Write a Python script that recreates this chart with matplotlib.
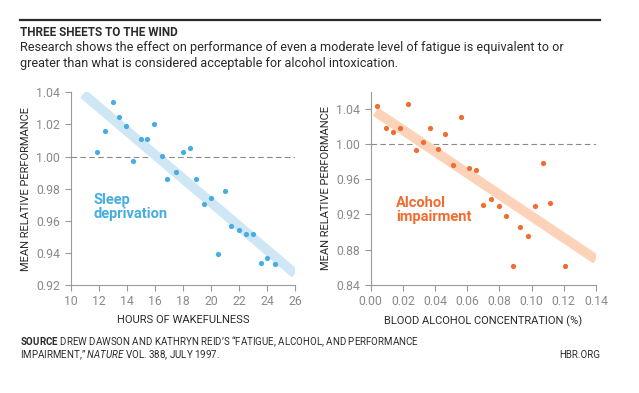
import matplotlib
matplotlib.use("Agg")
import matplotlib.pyplot as plt
from matplotlib.lines import Line2D

plt.rcParams['font.family'] = ['Roboto', 'DejaVu Sans']
plt.rcParams['mathtext.fontset'] = 'custom'
plt.rcParams['mathtext.rm'] = 'Roboto'
plt.rcParams['mathtext.it'] = 'Roboto:italic'
plt.rcParams['mathtext.bf'] = 'Roboto:bold'

# sleep deprivation: hours awake vs mean relative performance
hours = [11.85, 12.45, 13.0, 13.47, 13.95, 14.47, 14.99, 15.47, 15.94, 16.49,
         16.9, 17.49, 17.99, 18.51, 18.96, 19.51, 20.03, 20.49, 20.98, 21.44,
         22.0, 22.5, 22.98, 23.58, 24.0, 24.55]
sleep_perf = [1.0031, 1.016, 1.0338, 1.0248, 1.019, 0.9973, 1.0108, 1.0108, 1.020, 1.0006,
              0.9858, 0.9902, 1.0027, 1.0052, 0.9863, 0.9706, 0.974, 0.9394, 0.9788, 0.9569,
              0.9544, 0.9517, 0.9517, 0.9338, 0.9369, 0.9329]
sleep_fit_x = [10.9, 26]
sleep_fit_y = [1.039, 0.927]

# alcohol: blood alcohol concentration vs mean relative performance
bac = [0.0041, 0.0093, 0.0139, 0.0184, 0.023, 0.028, 0.0323, 0.0369, 0.0418, 0.0462,
       0.0514, 0.0561, 0.0609, 0.0652, 0.0698, 0.0748, 0.0795, 0.0839, 0.0884, 0.093,
       0.098, 0.1023, 0.1069, 0.1114, 0.1207]
alc_perf = [1.0426, 1.0178, 1.014, 1.0178, 1.0456, 0.9935, 1.002, 1.0182, 0.9948, 1.011,
            0.976, 1.031, 0.973, 0.970, 0.9309, 0.9373, 0.9297, 0.918, 0.8616, 0.9053,
            0.8959, 0.9294, 0.9779, 0.9335, 0.8616]
alc_fit_x = [0.003, 0.14]
alc_fit_y = [1.0366, 0.869]

sleep_ticks_x = [10, 12, 14, 16, 18, 20, 22, 24, 26]
sleep_ticks_y = [0.92, 0.94, 0.96, 0.98, 1.00, 1.02, 1.04]
alc_ticks_x = [0.00, 0.02, 0.04, 0.06, 0.08, 0.10, 0.12, 0.14]
alc_ticks_y = [0.84, 0.88, 0.92, 0.96, 1.00, 1.04]

blue, blue_lt = '#45ade2', '#cfe6f5'
orange, orange_lt = '#f26b2f', '#fcd2b8'
grey, dark = '#8a8a8a', '#2a2a2a'

fig = plt.figure(figsize=(6.39, 3.93), dpi=100)
fig.patch.set_facecolor('white')

ax1 = fig.add_axes([0.1106, 0.275, 0.3511, 0.490])
ax2 = fig.add_axes([0.5801, 0.275, 0.3526, 0.491])


def style(ax, xt, yt, xfmt, yfmt):
    for s in ['top', 'right']:
        ax.spines[s].set_visible(False)
    for s in ['left', 'bottom']:
        ax.spines[s].set_color('#9a9a9a')
        ax.spines[s].set_linewidth(0.8)
    ax.set_xticks(xt)
    ax.set_yticks(yt)
    ax.set_xticklabels([xfmt.format(v) for v in xt])
    ax.set_yticklabels([yfmt.format(v) for v in yt])
    ax.tick_params(colors='#9a9a9a', labelcolor=grey, labelsize=8.8, length=4, width=0.8)
    ax.axhline(1.0, color='#8a8a8a', lw=0.8, ls=(0, (5, 3)), zorder=1)
    ax.set_ylabel('MEAN RELATIVE PERFORMANCE', fontsize=8, color=dark, labelpad=4)


style(ax1, sleep_ticks_x, sleep_ticks_y, '{:.0f}', '{:.2f}')
ax1.set_xlim(10, 26)
ax1.set_ylim(0.92, 1.04)
ax1.plot(sleep_fit_x, sleep_fit_y, color=blue_lt, lw=7, solid_capstyle='butt', zorder=2)
ax1.scatter(hours, sleep_perf, s=14, color=blue, zorder=3, linewidths=0)
ax1.text(11.6, 0.9685, 'Sleep\ndeprivation', color=blue, fontsize=10.5, fontweight='bold',
         va='center', ha='left', linespacing=1.0)
ax1.set_xlabel('HOURS OF WAKEFULNESS', fontsize=8, color=dark, labelpad=5)

style(ax2, alc_ticks_x, alc_ticks_y, '{:.2f}', '{:.2f}')
ax2.set_xlim(0, 0.14)
ax2.set_ylim(0.84, 1.059)
ax2.plot(alc_fit_x, alc_fit_y, color=orange_lt, lw=7, solid_capstyle='butt', zorder=2)
ax2.scatter(bac, alc_perf, s=14, color=orange, zorder=3, linewidths=0)
ax2.text(0.0157, 0.925, 'Alcohol\nimpairment', color=orange, fontsize=10.5, fontweight='bold',
         va='center', ha='left', linespacing=1.0)
ax2.set_xlabel('BLOOD ALCOHOL CONCENTRATION (%)', fontsize=8, color=dark, labelpad=5)

# header
fig.add_artist(Line2D([20 / 639, 600 / 639], [1 - 20 / 393, 1 - 20 / 393], color=dark, lw=1.6))
fig.text(20 / 639, 1 - 33 / 393, 'THREE SHEETS TO THE WIND', fontsize=8.5, fontweight='bold',
         color=dark, va='center')
fig.text(20 / 639, 1 - 48 / 393,
         'Research shows the effect on performance of even a moderate level of fatigue is equivalent to or',
         fontsize=9.1, color=dark, va='center')
fig.text(20 / 639, 1 - 63 / 393,
         'greater than what is considered acceptable for alcohol intoxication.',
         fontsize=9.1, color=dark, va='center')

# footer
fig.text(20 / 639, 1 - 342 / 393,
         '$\\mathbf{SOURCE}$ DREW DAWSON AND KATHRYN REID\u2019S \u201cFATIGUE, ALCOHOL, AND PERFORMANCE',
         fontsize=7.0, color=dark, va='center')
fig.text(20 / 639, 1 - 355 / 393,
         'IMPAIRMENT,\u201d $\\mathit{NATURE}$ VOL. 388, JULY 1997.',
         fontsize=7.0, color=dark, va='center')
fig.text(600 / 639, 1 - 355 / 393, 'HBR.ORG', fontsize=7.0, color=dark, va='center', ha='right')

fig.savefig('out.png', dpi=100)
